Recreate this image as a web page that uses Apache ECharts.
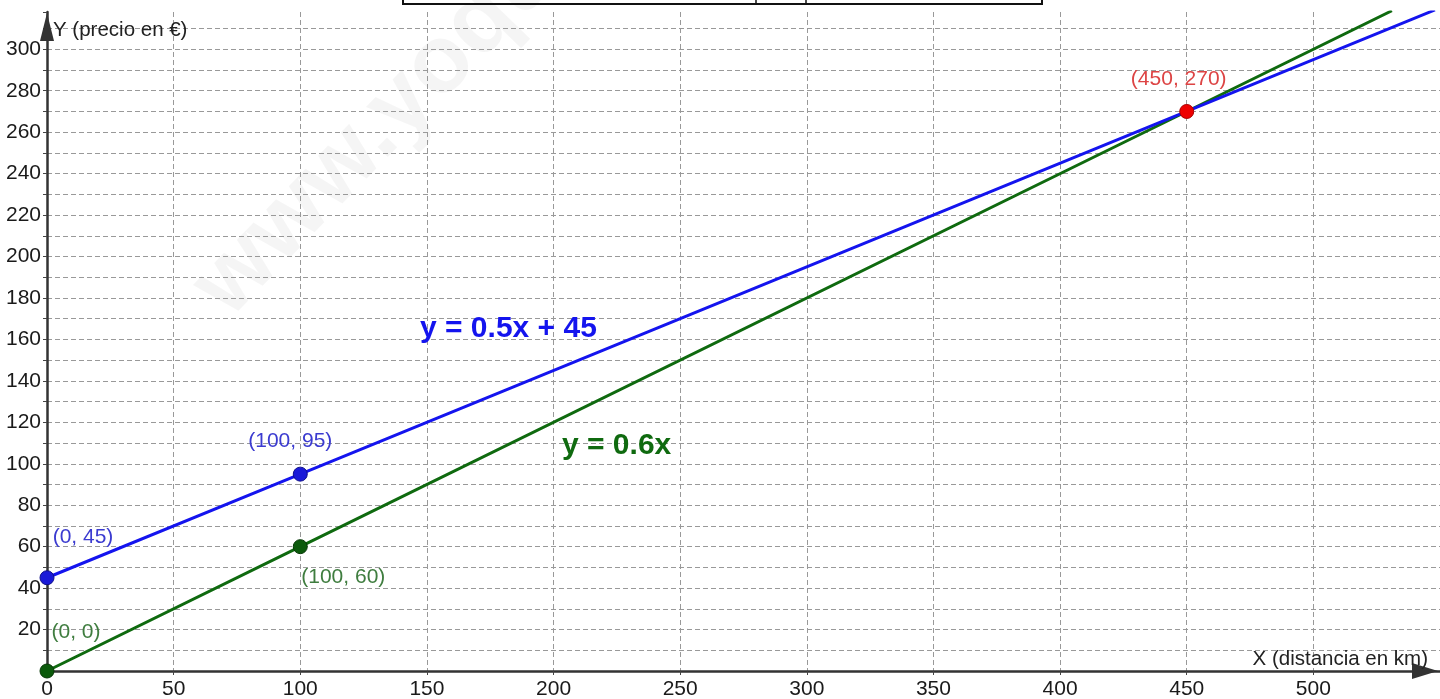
<!DOCTYPE html>
<html>
<head>
<meta charset="utf-8">
<script src="https://cdn.jsdelivr.net/npm/echarts@6/dist/echarts.min.js"></script>
<style>
html,body{margin:0;padding:0;background:#fff;}
#chart{width:1440px;height:699px;}
</style>
</head>
<body>
<div id="chart"></div>
<script>
// ---- data ----
const xTicks = [0, 50, 100, 150, 200, 250, 300, 350, 400, 450, 500];
const yTicks = [20, 40, 60, 80, 100, 120, 140, 160, 180, 200, 220, 240, 260, 280, 300];
const blueLine = [[0, 45], [100, 95], [450, 270], [548, 319]];
const greenLine = [[0, 0], [100, 60], [450, 270], [531, 318.6]];
const bluePoints = [[0, 45], [100, 95]];
const greenPoints = [[0, 0], [100, 60]];
const redPoints = [[450, 270]];
const blueLabels = ['(0, 45)', '(100, 95)'];
const greenLabels = ['(0, 0)', '(100, 60)'];
const redLabels = ['(450, 270)'];
const blueEq = 'y = 0.5x + 45';
const greenEq = 'y = 0.6x';
const xName = 'X (distancia en km)';
const yName = 'Y (precio en €)';

const FONT = '"Liberation Sans", Arial, sans-serif';
const BLUE = '#1414ee';
const GREEN = '#0f6a0f';

const chart = echarts.init(document.getElementById('chart'), null, {renderer: 'canvas'});

function pts(data, labels, labelOffsets, labelColor) {
  return data.map((d, i) => ({
    value: d,
    label: {
      show: true,
      formatter: labels[i],
      position: 'inside',
      offset: labelOffsets[i],
      color: labelColor,
      fontSize: 21,
      fontFamily: FONT
    }
  }));
}

const option = {
  animation: false,
  backgroundColor: '#ffffff',
  grid: {left: 47, right: 0, top: 12, bottom: 28, containLabel: false, outerBoundsMode: 'none'},
  xAxis: {
    type: 'value',
    min: 0, max: 550, interval: 50,
    axisLine: {show: true, onZero: false, lineStyle: {color: '#333', width: 2.5},
      symbol: ['none', 'triangle'], symbolSize: [16, 26], symbolOffset: [0, -15]},
    axisTick: {show: true, length: 4, lineStyle: {color: '#444', width: 1}},
    axisLabel: {
      margin: 8, fontSize: 21, color: '#1a1a1a', fontFamily: FONT,
      formatter: v => (xTicks.indexOf(v) >= 0 ? String(v) : ''),
      showMaxLabel: false
    },
    splitLine: {show: true, showMinLine: false, showMaxLine: false,
      lineStyle: {color: '#999', width: 1, type: [5, 3]}}
  },
  yAxis: {
    type: 'value',
    min: 0, max: 318, interval: 10,
    axisLine: {show: true, onZero: false, lineStyle: {color: '#333', width: 2.5},
      symbol: ['none', 'triangle'], symbolSize: [14, 28], symbolOffset: [0, -15]},
    axisTick: {show: true, length: 4, lineStyle: {color: '#444', width: 1}},
    axisLabel: {
      margin: 6, fontSize: 21, color: '#1a1a1a', fontFamily: FONT,
      formatter: v => (yTicks.indexOf(v) >= 0 ? String(v) : '')
    },
    splitLine: {show: true, showMinLine: false, showMaxLine: false,
      lineStyle: {color: '#999', width: 1, type: [5, 3]}}
  },
  graphic: [
    // faint watermark
    {type: 'text', x: 245, y: 335, rotation: 0.8, z: 0, silent: true,
      style: {text: 'www.yoquieroaprobar.es', font: 'bold 96px ' + FONT,
        fill: 'rgba(0,0,0,0.04)', textVerticalAlign: 'bottom'}},
    // table fragment at the very top
    {type: 'polyline', z: 10, shape: {points: [[403, 0], [403, 4], [1042, 4], [1042, 0]]},
      style: {stroke: '#111', lineWidth: 2, fill: null}},
    {type: 'line', z: 10, shape: {x1: 756, y1: 0, x2: 756, y2: 4}, style: {stroke: '#111', lineWidth: 1.5}},
    {type: 'line', z: 10, shape: {x1: 806, y1: 0, x2: 806, y2: 4}, style: {stroke: '#111', lineWidth: 1.5}},
    // axis names
    {type: 'text', x: 53, y: 30, z: 10,
      style: {text: yName, font: '20.5px ' + FONT, fill: '#222', textVerticalAlign: 'middle'}},
    {type: 'text', x: 1428, y: 659, z: 10,
      style: {text: xName, font: '20.5px ' + FONT, fill: '#222', textAlign: 'right', textVerticalAlign: 'middle'}},
    // equations
    {type: 'text', x: 420, y: 329, z: 10,
      style: {text: blueEq, font: 'bold 30px ' + FONT, fill: BLUE, textVerticalAlign: 'middle'}},
    {type: 'text', x: 562, y: 446, z: 10,
      style: {text: greenEq, font: 'bold 30px ' + FONT, fill: GREEN, textVerticalAlign: 'middle'}}
  ],
  series: [
    {type: 'line', data: blueLine, showSymbol: false, symbol: 'none', clip: true, z: 3,
      lineStyle: {color: BLUE, width: 3}},
    {type: 'line', data: greenLine, showSymbol: false, symbol: 'none', clip: true, z: 2,
      lineStyle: {color: GREEN, width: 3}},
    {type: 'scatter', symbolSize: 14, z: 5, clip: false,
      itemStyle: {color: '#1a1ad8', borderColor: '#10108a', borderWidth: 1, opacity: 1},
      data: pts(bluePoints, blueLabels, [[36, -41], [-10, -33]], '#3b3bd0')},
    {type: 'scatter', symbolSize: 14, z: 5, clip: false,
      itemStyle: {color: '#0b5a0b', borderColor: '#063806', borderWidth: 1, opacity: 1},
      data: pts(greenPoints, greenLabels, [[29, -39], [43, 31]], '#3f7d3f')},
    {type: 'scatter', symbolSize: 14, z: 5, clip: false,
      itemStyle: {color: '#ee0000', borderColor: '#aa0000', borderWidth: 1, opacity: 1},
      data: pts(redPoints, redLabels, [[-8, -32]], '#dd4444')}
  ]
};
chart.setOption(option);
</script>
</body>
</html>
